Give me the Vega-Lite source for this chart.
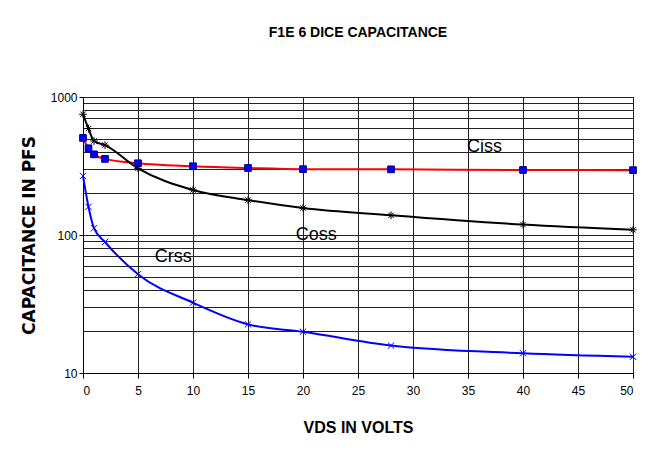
{
  "$schema": "https://vega.github.io/schema/vega-lite/v6.json",
  "width": 550,
  "height": 276,
  "autosize": {"type": "none"},
  "padding": {"left": 83, "top": 97, "right": 32, "bottom": 101},
  "background": "#FFFFFF",
  "title": {
    "text": "F1E 6 DICE CAPACITANCE",
    "font": "Liberation Sans",
    "fontSize": 14,
    "fontWeight": "bold",
    "color": "#000000",
    "anchor": "middle",
    "offset": 51
  },
  "datasets": {
    "caps": [
      {"series": "Ciss", "vds": 0, "cap": 505},
      {"series": "Ciss", "vds": 0.5, "cap": 425},
      {"series": "Ciss", "vds": 1, "cap": 384},
      {"series": "Ciss", "vds": 2, "cap": 356},
      {"series": "Ciss", "vds": 5, "cap": 331},
      {"series": "Ciss", "vds": 10, "cap": 315},
      {"series": "Ciss", "vds": 15, "cap": 306},
      {"series": "Ciss", "vds": 20, "cap": 300},
      {"series": "Ciss", "vds": 28, "cap": 299},
      {"series": "Ciss", "vds": 40, "cap": 296},
      {"series": "Ciss", "vds": 50, "cap": 295},
      {"series": "Coss", "vds": 0, "cap": 750},
      {"series": "Coss", "vds": 0.5, "cap": 590},
      {"series": "Coss", "vds": 1, "cap": 480},
      {"series": "Coss", "vds": 2, "cap": 448},
      {"series": "Coss", "vds": 5, "cap": 304},
      {"series": "Coss", "vds": 10, "cap": 212},
      {"series": "Coss", "vds": 15, "cap": 179},
      {"series": "Coss", "vds": 20, "cap": 157},
      {"series": "Coss", "vds": 28, "cap": 139},
      {"series": "Coss", "vds": 40, "cap": 119},
      {"series": "Coss", "vds": 50, "cap": 109},
      {"series": "Crss", "vds": 0, "cap": 268},
      {"series": "Crss", "vds": 0.5, "cap": 160},
      {"series": "Crss", "vds": 1, "cap": 112},
      {"series": "Crss", "vds": 2, "cap": 89},
      {"series": "Crss", "vds": 5, "cap": 52},
      {"series": "Crss", "vds": 10, "cap": 32.3},
      {"series": "Crss", "vds": 15, "cap": 22.5},
      {"series": "Crss", "vds": 20, "cap": 19.9},
      {"series": "Crss", "vds": 28, "cap": 15.8},
      {"series": "Crss", "vds": 40, "cap": 13.9},
      {"series": "Crss", "vds": 50, "cap": 13.1}
    ],
    "labels": [
      {"label": "Ciss", "vds": 36.5, "cap": 434},
      {"label": "Coss", "vds": 21.2, "cap": 100},
      {"label": "Crss", "vds": 8.2, "cap": 69}
    ]
  },
  "encoding": {
    "x": {
      "field": "vds",
      "type": "quantitative",
      "scale": {"domain": [0, 50], "nice": false, "zero": false},
      "axis": {
        "title": "VDS IN VOLTS",
        "values": [0, 5, 10, 15, 20, 25, 30, 35, 40, 45, 50],
        "grid": true,
        "gridColor": "#222222",
        "gridOpacity": 1,
        "gridWidth": 1,
        "domainColor": "#000000",
        "tickColor": "#000000",
        "tickSize": 5,
        "labelPadding": 7,
        "labelFont": "Liberation Sans",
        "labelFontSize": 12,
        "labelColor": "#000000",
        "titleFont": "Liberation Sans",
        "titleFontSize": 16,
        "titleFontWeight": "bold",
        "titleColor": "#000000",
        "titlePadding": 23
      }
    },
    "y": {
      "field": "cap",
      "type": "quantitative",
      "scale": {"type": "log", "domain": [10, 1000], "nice": false},
      "axis": {
        "title": "CAPACITANCE IN PFS",
        "values": [10, 20, 30, 40, 50, 60, 70, 80, 90, 100, 200, 300, 400, 500, 600, 700, 800, 900, 1000],
        "format": "d",
        "labelExpr": "(datum.value == 10 || datum.value == 100 || datum.value == 1000) ? datum.label : ''",
        "labelOverlap": false,
        "tickOpacity": {"condition": {"test": "datum.value == 10 || datum.value == 100 || datum.value == 1000", "value": 1}, "value": 0},
        "grid": true,
        "gridColor": "#222222",
        "gridOpacity": 1,
        "gridWidth": 1,
        "domainColor": "#000000",
        "tickColor": "#000000",
        "tickSize": 4,
        "labelPadding": 2,
        "labelFont": "Liberation Sans",
        "labelFontSize": 12,
        "labelColor": "#000000",
        "titleFont": "DejaVu Sans",
        "titleFontSize": 17,
        "titleFontWeight": "bold",
        "titleColor": "#000000",
        "titlePadding": 12
      }
    }
  },
  "layer": [
    {
      "data": {"name": "caps"},
      "mark": {"type": "line", "interpolate": "monotone", "strokeWidth": 2},
      "encoding": {
        "color": {
          "field": "series",
          "type": "nominal",
          "scale": {"domain": ["Ciss", "Coss", "Crss"], "range": ["#FF0000", "#000000", "#0000FF"]},
          "legend": null
        },
        "order": {"field": "vds", "type": "quantitative"}
      }
    },
    {
      "data": {"name": "caps"},
      "transform": [{"filter": "datum.series == 'Ciss'"}],
      "mark": {"type": "point", "shape": "square", "filled": true, "fill": "#0000FF", "stroke": "#000080", "strokeWidth": 1, "size": 45, "opacity": 1},
      "encoding": {}
    },
    {
      "data": {"name": "caps"},
      "transform": [{"filter": "datum.series == 'Coss'"}],
      "mark": {"type": "point", "shape": "M-1,0L1,0M0,-1L0,1M-0.7,-0.7L0.7,0.7M-0.7,0.7L0.7,-0.7", "filled": false, "stroke": "#000000", "strokeWidth": 1, "size": 60, "opacity": 1},
      "encoding": {}
    },
    {
      "data": {"name": "caps"},
      "transform": [{"filter": "datum.series == 'Crss'"}],
      "mark": {"type": "point", "shape": "M-1,-1L1,1M-1,1L1,-1", "filled": false, "stroke": "#0000FF", "strokeWidth": 1, "size": 40, "opacity": 1},
      "encoding": {}
    },
    {
      "data": {"name": "labels"},
      "mark": {"type": "text", "font": "Liberation Sans", "fontSize": 18, "fontWeight": 500, "color": "#000000", "align": "center", "baseline": "middle"},
      "encoding": {"text": {"field": "label", "type": "nominal"}}
    }
  ],
  "config": {
    "view": {"stroke": "#000000", "strokeWidth": 1}
  }
}
